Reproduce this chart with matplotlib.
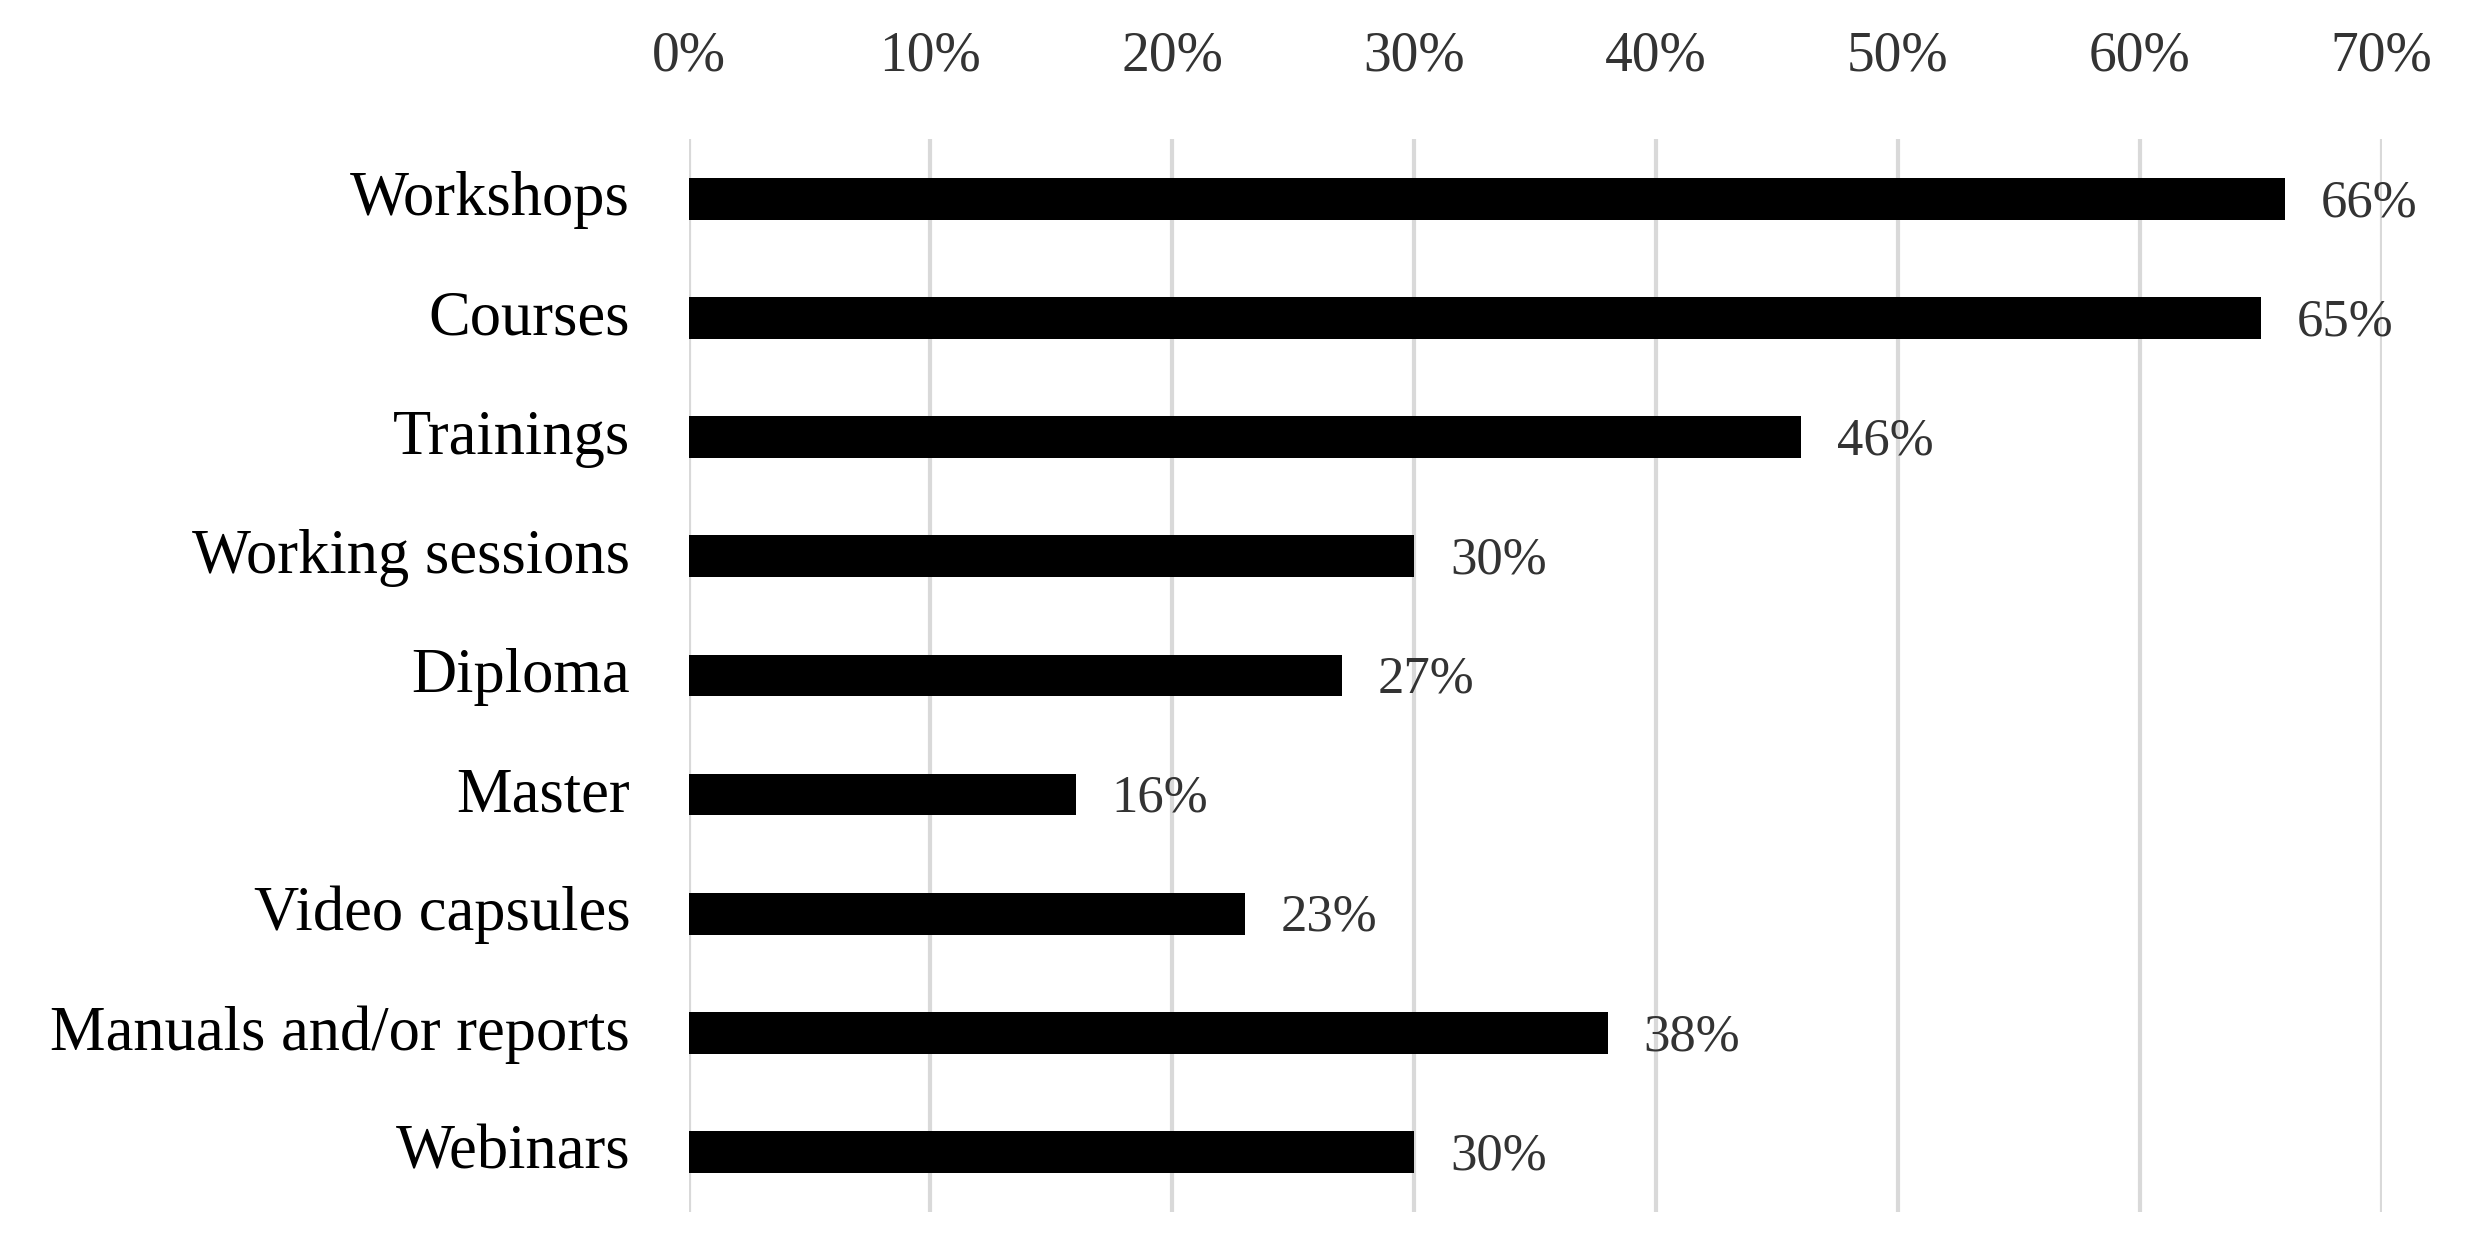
import matplotlib
matplotlib.use("Agg")
import matplotlib.pyplot as plt
import matplotlib.transforms as mtransforms
from matplotlib.ticker import FuncFormatter, MultipleLocator

categories = ["Workshops", "Courses", "Trainings", "Working sessions", "Diploma",
              "Master", "Video capsules", "Manuals and/or reports", "Webinars"]
values = [0.66, 0.65, 0.46, 0.30, 0.27, 0.16, 0.23, 0.38, 0.30]
value_labels = ["66%", "65%", "46%", "30%", "27%", "16%", "23%", "38%", "30%"]

plt.rcParams['font.family'] = ['Liberation Serif', 'DejaVu Serif']

fig = plt.figure(figsize=(24.68, 12.44), dpi=100)
ax = fig.add_axes([0.279, 0.026, 0.686, 0.862])

ypos = list(range(len(categories)))
ax.barh(ypos, values, height=0.35, color="black", zorder=3)
for y, v, t in zip(ypos, values, value_labels):
    ax.annotate(t, (v, y), xytext=(26, -3), textcoords="offset points",
                ha="left", va="center", fontsize=38, color="#333333")

ax.set_yticks(ypos)
ax.set_yticklabels(categories, fontsize=45, color="black")
ax.set_ylim(len(categories) - 0.5, -0.5)
ax.set_xlim(0, 0.7)
ax.xaxis.set_major_locator(MultipleLocator(0.1))
ax.xaxis.set_major_formatter(FuncFormatter(lambda x, p: f"{x*100:.0f}%"))
ax.xaxis.tick_top()
ax.tick_params(axis="x", length=0, pad=41, labelsize=40, labelcolor="#333333")
ax.tick_params(axis="y", length=0, pad=42)
ax.grid(axis="x", color="#d9d9d9", linewidth=3, zorder=0)
for s in ax.spines.values():
    s.set_visible(False)

offset = mtransforms.ScaledTranslation(0, 4 / 72, fig.dpi_scale_trans)
for lbl in ax.get_yticklabels():
    lbl.set_transform(lbl.get_transform() + offset)

fig.savefig("out.png", dpi=100)
